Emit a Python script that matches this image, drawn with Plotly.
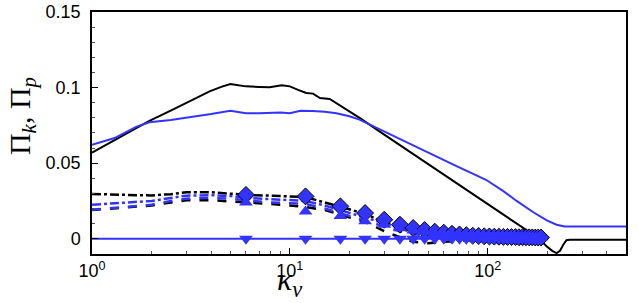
import plotly.graph_objects as go

BLUE = "#3333ff"
BLACK = "#000000"

# total transfer (solid)
x_k_tot = [1, 1.3, 1.6, 1.95, 2.5, 3.2, 3.93, 4.5, 5.0, 5.5, 6.0, 7.0, 7.9, 9.1, 10, 11, 12.1,
           13.1, 14.2, 15.9, 17.5, 20.1, 22.5, 30, 40, 50, 64.5, 80, 100, 130, 160, 180, 199,
           212, 223, 232, 241, 250, 260, 300, 400, 500]
y_k_tot = [0.057, 0.0652, 0.0717, 0.078, 0.0848, 0.0917, 0.0975, 0.1005, 0.1024, 0.1015, 0.1008,
           0.1004, 0.1002, 0.1015, 0.1008, 0.0985, 0.0964, 0.096, 0.0931, 0.0925, 0.089, 0.0843,
           0.0799, 0.0689, 0.0579, 0.0493, 0.0396, 0.0313, 0.0228, 0.0128, 0.0048, 0.0005,
           -0.0051, -0.008, -0.0095, -0.008, -0.004, -0.001, -0.0007, -0.0007, -0.0007, -0.0007]

x_p_tot = [1, 1.3, 1.67, 1.95, 2.5, 3.2, 4, 5, 6, 7, 8, 9, 10, 11.3, 13, 15, 17.2, 20, 22.5,
           28.5, 35, 50, 70, 98, 120, 140, 170, 199, 223, 245, 300, 400, 500]
y_p_tot = [0.0622, 0.0666, 0.074, 0.077, 0.0785, 0.0805, 0.0825, 0.0847, 0.083, 0.083, 0.0835,
           0.0835, 0.083, 0.0847, 0.0845, 0.084, 0.083, 0.081, 0.0788, 0.0723, 0.0668, 0.057,
           0.0479, 0.039, 0.0315, 0.025, 0.0175, 0.0121, 0.0093, 0.0081, 0.0081, 0.0081, 0.0081]

# component curves (dash-dot / dashed)
x_comp = [1, 1.5, 2, 2.5, 3, 4, 5, 6, 8, 10, 12, 15, 18, 21, 24, 27, 30, 36, 42, 50, 60, 80,
          100, 140, 190]
y_k_dd = [0.0296, 0.029, 0.0286, 0.0295, 0.0307, 0.0308, 0.03, 0.029, 0.0285, 0.0282, 0.0275,
          0.024, 0.021, 0.0185, 0.0165, 0.0135, 0.011, 0.007, 0.004, 0.0015, 0.0005, 0.0, 0.0,
          0.0, 0.0]
y_k_da = [0.019, 0.0205, 0.022, 0.024, 0.0255, 0.0255, 0.0248, 0.024, 0.023, 0.022, 0.021,
          0.019, 0.016, 0.0135, 0.011, 0.008, 0.005, 0.001, -0.002, -0.003, -0.002, -0.001,
          -0.0005, 0.0, 0.0]
y_p_dd = [0.0225, 0.024, 0.025, 0.027, 0.0285, 0.0288, 0.0282, 0.027, 0.026, 0.0255, 0.025,
          0.022, 0.019, 0.0165, 0.014, 0.012, 0.010, 0.007, 0.005, 0.003, 0.002, 0.001, 0.0005,
          0.0, 0.0]
y_p_da = [0.0192, 0.021, 0.0225, 0.025, 0.0265, 0.027, 0.0265, 0.0255, 0.024, 0.0235, 0.023,
          0.020, 0.017, 0.0145, 0.012, 0.010, 0.008, 0.005, 0.003, 0.002, 0.001, 0.0005, 0.0,
          0.0, 0.0]

# marker series
x_mk = [6, 12, 18, 24, 30, 36, 42, 48, 54, 60, 66, 72, 78, 84, 90, 96, 102, 108, 114, 120,
        126, 132, 138, 144, 150, 156, 162, 168, 174, 180, 186]
y_diamond = [0.029, 0.028, 0.0214, 0.017, 0.0126, 0.0093, 0.0071, 0.0058, 0.0047, 0.004,
             0.0033, 0.0028, 0.0024, 0.002, 0.0018, 0.0016, 0.0015, 0.0014, 0.0013, 0.0012,
             0.0012, 0.0011, 0.0011, 0.001, 0.001, 0.001, 0.0009, 0.0009, 0.0008, 0.0008, 0.0008]
y_tri_up = [0.024, 0.018, 0.015, 0.0115, 0.0093, 0.007, 0.0055, 0.0045, 0.0038, 0.003,
            0.0026, 0.0022, 0.002, 0.0018, 0.0016, 0.0015, 0.0014, 0.0013, 0.0012, 0.0011,
            0.0011, 0.001, 0.001, 0.001, 0.0009, 0.0009, 0.0009, 0.0008, 0.0008, 0.0008, 0.0008]
y_tri_dn = [0.0] * len(x_mk)
x_zero = [1, 190]
y_zero = [0.0, 0.0]

x_tickvals = [1, 10, 100]
x_ticktext = ["10<sup>0</sup>", "10<sup>1</sup>", "10<sup>2</sup>"]
y_tickvals = [0, 0.05, 0.1, 0.15]
y_ticktext = ["0", "0.05", "0.1", "0.15"]

fig = go.Figure()
fig.add_trace(go.Scatter(x=x_comp, y=y_k_dd, mode="lines",
                         line=dict(color=BLACK, width=2.5, dash="dashdot")))
fig.add_trace(go.Scatter(x=x_comp, y=y_k_da, mode="lines",
                         line=dict(color=BLACK, width=2.5, dash="dash")))
fig.add_trace(go.Scatter(x=x_comp, y=y_p_dd, mode="lines",
                         line=dict(color=BLUE, width=2.5, dash="dashdot")))
fig.add_trace(go.Scatter(x=x_comp, y=y_p_da, mode="lines",
                         line=dict(color=BLUE, width=2.5, dash="dash")))
fig.add_trace(go.Scatter(x=x_zero, y=y_zero, mode="lines",
                         line=dict(color=BLUE, width=2)))
fig.add_trace(go.Scatter(x=x_k_tot, y=y_k_tot, mode="lines",
                         line=dict(color=BLACK, width=2)))
fig.add_trace(go.Scatter(x=x_p_tot, y=y_p_tot, mode="lines",
                         line=dict(color=BLUE, width=2)))
fig.add_trace(go.Scatter(x=x_mk, y=y_diamond, mode="markers",
                         marker=dict(symbol="diamond", size=13, color=BLUE,
                                     line=dict(color=BLACK, width=1))))
fig.add_trace(go.Scatter(x=x_mk, y=y_tri_up, mode="markers",
                         marker=dict(symbol="triangle-up", size=12, color=BLUE,
                                     line=dict(color=BLUE, width=0))))
fig.add_trace(go.Scatter(x=x_mk, y=y_tri_dn, mode="markers",
                         marker=dict(symbol="triangle-down", size=12, color=BLUE,
                                     line=dict(color=BLUE, width=0))))

axis_font = dict(family="Liberation Sans, Arial", size=18, color="black")
fig.update_xaxes(type="log", range=[0, 2.699], showgrid=False, zeroline=False,
                 automargin=False,
                 showline=True, linecolor="black", linewidth=1.5, mirror=True,
                 ticks="inside", ticklen=6, tickcolor="black", tickwidth=1,
                 ticklabelstandoff=0,
                 tickvals=x_tickvals, ticktext=x_ticktext, tickfont=axis_font,
                 minor=dict(ticks="inside", ticklen=3, tickcolor="#555", dtick="D1"))
fig.update_yaxes(range=[-0.0101, 0.15], showgrid=False, zeroline=False,
                 automargin=False,
                 showline=True, linecolor="black", linewidth=1.5, mirror=True,
                 ticks="inside", ticklen=6, tickcolor="black", tickwidth=1,
                 ticklabelstandoff=6,
                 tickvals=y_tickvals, ticktext=y_ticktext, tickfont=axis_font,
                 minor=dict(ticks="inside", ticklen=3, tickcolor="#555", dtick=0.01))

title_font = dict(family="Liberation Serif, Times New Roman", size=30, color="black")
fig.add_annotation(text="Π<sub><i>k</i></sub>, Π<sub><i>p</i></sub>", xref="paper", yref="paper",
                   x=0, y=0.57, xanchor="center", yanchor="middle", xshift=-70,
                   textangle=-90, showarrow=False, font=title_font)
fig.add_annotation(text="<i>κ</i><sub><i>v</i></sub>", xref="x", yref="paper",
                   x=1, y=0, xanchor="center", yanchor="bottom", yshift=-49,
                   borderpad=0, showarrow=False,
                   font=dict(family="Liberation Serif, Times New Roman", size=32, color="black"))

fig.update_layout(width=638, height=303, showlegend=False,
                  margin=dict(l=92, r=12, t=12, b=49, autoexpand=False),
                  paper_bgcolor="white", plot_bgcolor="white")

fig.write_html("out.html", config={"displayModeBar": False},
               post_script="document.body.style.margin='0';")
